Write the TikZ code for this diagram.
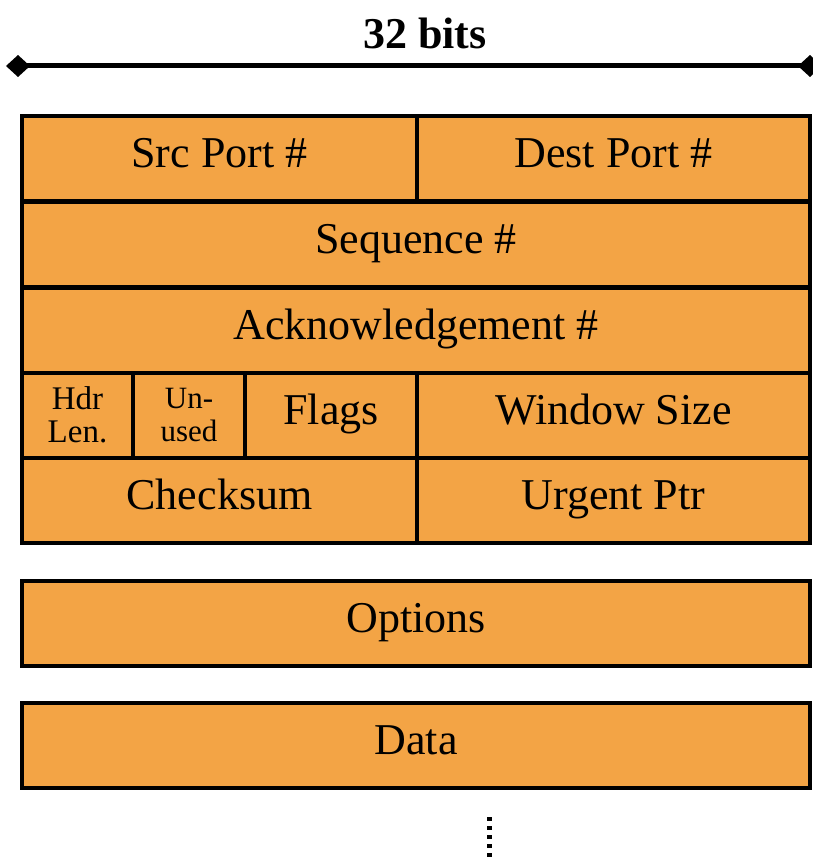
\documentclass[tikz,border=0pt]{standalone}
\usepackage{fontspec}
\setmainfont{Liberation Serif}
\usetikzlibrary{arrows.meta}
\definecolor{segorange}{HTML}{F3A445}
\begin{document}
\begin{tikzpicture}[x=1pt, y=-1pt,
  field/.style={draw, fill=segorange, line width=4pt, inner sep=0pt, minimum height=85pt, text height=29pt, text depth=10pt, font=\fontsize{44}{48}\selectfont},
  small/.style={field, align=center, text height=, text depth=, font=\fontsize{33}{33}\selectfont}]
\useasboundingbox (0,0) rectangle (813,859);
\node[font=\bfseries\fontsize{44}{48}\selectfont] (width) at (425,33) {32 bits};
\coordinate (wl) at (6,66);
\coordinate (wr) at (822,66);
\draw[line width=5pt, {Diamond[length=24pt,width=22pt]}-{Diamond[length=24pt,width=22pt]}] (wl) -- (wr);
\node[field, minimum width=395pt] (src) at (219.5,158) {Src Port \#};
\node[field, minimum width=393pt] (dst) at (613.5,158) {Dest Port \#};
\node[field, minimum width=788pt] (seq) at (416,244) {Sequence \#};
\node[field, minimum width=788pt] (ack) at (416,330) {Acknowledgement \#};
\node[small, minimum width=111pt] (hdr) at (77.5,415) {Hdr\\Len.};
\node[small, minimum width=112pt, font=\fontsize{31}{33}\selectfont] (unused) at (189,415) {Un-\\used};
\node[field, minimum width=172pt] (flags) at (331,415) {Flags};
\node[field, minimum width=393pt] (win) at (613.5,415) {Window Size};
\node[field, minimum width=395pt] (chk) at (219.5,500) {Checksum};
\node[field, minimum width=393pt] (urg) at (613.5,500) {Urgent Ptr};
\node[field, minimum width=788pt] (opt) at (416,623) {Options};
\node[field, minimum width=788pt] (data) at (416,745) {Data};
\coordinate (more) at (489,817);
\coordinate (end) at (489,859);
\draw[line width=5pt, dash pattern=on 4pt off 5pt] (more) -- (end);
\end{tikzpicture}
\end{document}
